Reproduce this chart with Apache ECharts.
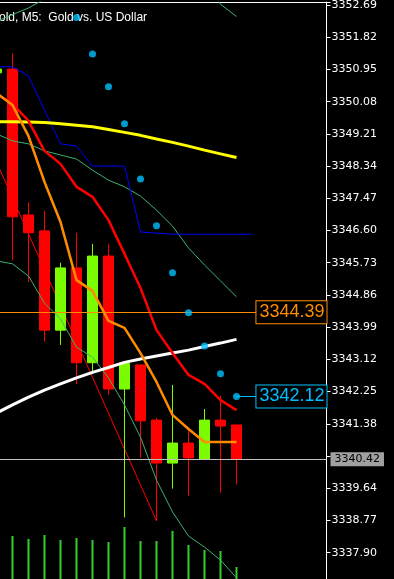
<!DOCTYPE html>
<html><head><meta charset="utf-8">
<script src="https://cdn.jsdelivr.net/npm/echarts@6/dist/echarts.min.js"></script>
<style>html,body{margin:0;padding:0;background:#000;overflow:hidden}#c{width:394px;height:579px}</style>
</head><body><div id="c"></div>
<script>
// ---- data (XAUUSD M5) ----
const barIndex = [0,1,2,3,4,5,6,7,8,9,10,11,12,13,14,15];
const openP  = [3350.86,3350.96,3347.02,3346.59,3343.91,3345.59,3343.03,3345.91,3342.32,3342.97,3341.48,3340.32,3340.86,3340.43,3341.48,3341.35];
const closeP = [3350.96,3346.97,3346.54,3343.91,3345.59,3343.03,3345.91,3342.32,3343.01,3341.46,3340.32,3340.86,3340.46,3341.48,3341.32,3340.42];
const lowP   = [3350.77,3345.80,3345.21,3343.60,3343.51,3342.45,3342.73,3342.16,3338.85,3340.47,3338.76,3339.63,3339.44,3340.43,3339.52,3339.74];
const highP  = [3351.04,3351.39,3347.36,3347.13,3345.73,3346.54,3346.24,3346.24,3343.06,3342.99,3341.54,3342.43,3341.21,3341.78,3342.14,3341.35];
const volume = [40,43,40,44,39,41,39,37,52,38,38,48,34,29,28,12];

const maYellow = [3349.54,3349.54,3349.53,3349.52,3349.48,3349.44,3349.40,3349.33,3349.25,3349.17,3349.07,3348.98,3348.88,3348.77,3348.67,3348.57];
const maWhite  = [3341.67,3341.89,3342.10,3342.29,3342.46,3342.62,3342.77,3342.90,3343.04,3343.13,3343.21,3343.29,3343.37,3343.47,3343.56,3343.66];
const maOrange = [3350.31,3349.99,3349.15,3347.91,3346.83,3345.26,3344.97,3344.16,3343.97,3343.29,3342.51,3341.62,3341.24,3340.89,3340.89,3340.89];
const maRed    = [3350.29,3350.02,3349.56,3348.75,3348.40,3347.78,3347.51,3346.88,3345.97,3345.05,3343.91,3343.29,3342.70,3342.46,3342.02,3341.75];
const blueIndex = [0,1,2,3,4,5,6,7,8,9,10,11,12,13,14,15,16];
const lineBlue = [3351.02,3351.02,3350.77,3349.85,3348.94,3348.88,3348.34,3348.34,3348.34,3346.56,3346.53,3346.50,3346.50,3346.50,3346.50,3346.50,3346.50];
const bbUpper = [3352.25,3352.43,3352.61,3352.85,3353.07,3353.61,3353.28,3353.30,3353.67,3354.04,3354.44,3354.44,3353.91,3353.29,3352.71,3352.38];
const bbMid   = [3349.21,3349.02,3348.94,3348.75,3348.64,3348.53,3348.23,3347.96,3347.78,3347.53,3347.15,3346.72,3346.13,3345.67,3345.24,3344.81];
const bbLower = [3345.78,3345.70,3345.37,3344.64,3344.21,3343.45,3343.18,3342.62,3341.89,3341.02,3339.86,3339.00,3338.35,3338.05,3337.70,3337.22];
const zigIndex = [0,10];
const zigValue = [3348.45,3338.76];
const sarIndex = [5,6,7,8,9,10,11,12,13,14,15];
const sarValue = [3352.35,3351.37,3350.48,3349.48,3347.99,3346.73,3345.46,3344.38,3343.48,3342.73,3342.12];
const hLevel = 3344.39;
// 3340.51 sits under the bid-price box, so it is not shown
const tickLabels = ['3337.90','3338.77','3339.64','3341.38','3342.25','3343.12','3343.99','3344.86','3345.73','3346.60','3347.47','3348.34','3349.21','3350.08','3350.95','3351.82','3352.69'];
const titleText = 'old, M5:  Gold vs. US Dollar';

// ---- axes setup ----
const X_MIN = 0.21875, X_MAX = 20.625;
const Y_MIN = 3337.03, Y_MAX = 3352.771, Y_STEP = 0.87;

const pairs = (idx, vals) => idx.map((i, k) => [i, vals[k]]);
const lineS = (name, data, color, width, z) => ({
  name, type: 'line', data, xAxisIndex: 0, yAxisIndex: 0,
  showSymbol: false, symbol: 'none', silent: true, z,
  lineStyle: { color, width }, clip: true
});

const chart = echarts.init(document.getElementById('c'), null, { renderer: 'canvas' });
chart.setOption({
  backgroundColor: '#000000',
  animation: false,
  title: {
    text: titleText, left: -1, top: 12, padding: 0, z: 1,
    textStyle: { color: '#ffffff', fontSize: 12, fontWeight: 'normal', fontFamily: 'Liberation Sans' }
  },
  grid: [
    { left: 0, top: 2, width: 326.5, height: 582.9, containLabel: false, outerBoundsMode: 'none' },
    { left: 0, top: 479, width: 326.5, height: 100, containLabel: false, outerBoundsMode: 'none' }
  ],
  xAxis: [
    { type: 'value', gridIndex: 0, min: X_MIN, max: X_MAX, position: 'top',
      axisLine: { show: true, onZero: false, lineStyle: { color: '#ffffff', width: 1 } },
      axisTick: { show: false }, axisLabel: { show: false }, splitLine: { show: false } },
    { type: 'value', gridIndex: 1, min: X_MIN, max: X_MAX, show: false, splitLine: { show: false } }
  ],
  yAxis: [
    { type: 'value', gridIndex: 0, position: 'right', min: Y_MIN, max: Y_MAX, interval: Y_STEP,
      axisLine: { show: true, lineStyle: { color: '#ffffff', width: 1 } },
      axisTick: { show: true, length: 4, lineStyle: { color: '#ffffff' } },
      splitLine: { show: false },
      axisLabel: { color: '#ffffff', fontSize: 11, fontFamily: 'DejaVu Sans', margin: 5,
        showMinLabel: true, showMaxLabel: true, hideOverlap: false,
        formatter: v => { const s = v.toFixed(2); return tickLabels.includes(s) ? s : ''; } } },
    { type: 'value', gridIndex: 1, min: 0, max: 100, show: false, splitLine: { show: false } }
  ],
  series: [
    lineS('ZigZag', pairs(zigIndex, zigValue), '#ff0000', 1, 1),
    {
      name: 'XAUUSD', type: 'candlestick', xAxisIndex: 0, yAxisIndex: 0, z: 2, silent: true,
      data: barIndex.map((i, k) => [i, openP[k], closeP[k], lowP[k], highP[k]]),
      encode: { x: 0, y: [1, 2, 3, 4] },
      barWidth: 10,
      itemStyle: { color: '#7CFC00', color0: '#FF0000', borderColor: '#7CFC00', borderColor0: '#FF0000', borderWidth: 1 },
      markLine: {
        silent: true, symbol: ['none', 'none'], animation: false,
        data: [
          { yAxis: closeP[closeP.length - 1],
            lineStyle: { color: '#C0C0C0', width: 1, type: 'solid' },
            label: { show: true, position: 'end', distance: 4, formatter: p => p.value.toFixed(2),
              color: '#000000', backgroundColor: '#A0A0A0', padding: [1, 4, 0, 4],
              fontSize: 11, fontFamily: 'DejaVu Sans', lineHeight: 13 } },
          { yAxis: hLevel,
            lineStyle: { color: '#FF8C00', width: 1, type: 'solid' },
            label: { show: true, position: 'insideEnd', distance: 0, formatter: p => p.value.toFixed(2),
              color: '#FF8C00', backgroundColor: '#000000', borderColor: '#FF8C00', borderWidth: 1,
              padding: [2, 2, 1, 3], fontSize: 18, fontFamily: 'Liberation Sans', lineHeight: 19 } }
        ]
      }
    },
    lineS('BB upper', pairs(barIndex, bbUpper), '#3CB371', 1, 3),
    lineS('BB mid', pairs(barIndex, bbMid), '#3CB371', 1, 3),
    lineS('BB lower', pairs(barIndex, bbLower), '#3CB371', 1, 3),
    lineS('Channel', pairs(blueIndex, lineBlue), '#0000FF', 1, 3),
    lineS('MA yellow', pairs(barIndex, maYellow), '#FFFF00', 3, 4),
    lineS('MA white', pairs(barIndex, maWhite), '#FFFFFF', 3, 4),
    lineS('MA red', pairs(barIndex, maRed), '#FF0000', 2.5, 4),
    lineS('MA orange', pairs(barIndex, maOrange), '#FF8C00', 2.5, 4),
    {
      name: 'SAR', type: 'scatter', xAxisIndex: 0, yAxisIndex: 0, z: 5, silent: true,
      data: pairs(sarIndex, sarValue), symbol: 'circle', symbolSize: 7,
      itemStyle: { color: '#00BFFF' },
      markLine: {
        silent: true, symbol: ['none', 'none'], animation: false,
        data: [[
          { coord: [sarIndex[sarIndex.length - 1], sarValue[sarValue.length - 1]] },
          { coord: [X_MAX, sarValue[sarValue.length - 1]] }
        ]],
        lineStyle: { color: '#00BFFF', width: 1, type: 'solid' },
        label: { show: true, position: 'insideEnd', distance: 0,
          formatter: () => sarValue[sarValue.length - 1].toFixed(2),
          color: '#00BFFF', backgroundColor: '#000000', borderColor: '#00BFFF', borderWidth: 1,
          padding: [2, 2, 1, 3], fontSize: 18, fontFamily: 'Liberation Sans', lineHeight: 19 }
      }
    },
    {
      name: 'Volume', type: 'bar', xAxisIndex: 1, yAxisIndex: 1, silent: true,
      data: pairs(barIndex, volume), barWidth: 2,
      itemStyle: { color: '#32CD32' }
    }
  ]
});
</script></body></html>
